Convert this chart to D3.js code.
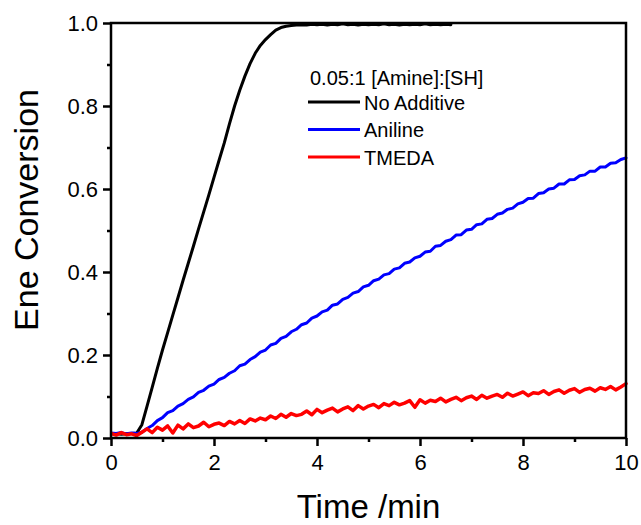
<!DOCTYPE html>
<html>
<head>
<meta charset="utf-8">
<script src="https://cdn.jsdelivr.net/npm/d3@7"></script>
<style>
  html, body { margin: 0; padding: 0; background: #fff; }
  svg { display: block; font-family: "Liberation Sans", Arial, sans-serif; }
</style>
</head>
<body>
<svg id="chart" width="641" height="525"></svg>
<script>
// ---- data ----
const times = [0.0,0.1,0.2,0.3,0.4,0.5,0.6,0.7,0.8,0.9,1.0,1.1,1.2,1.3,1.4,1.5,1.6,1.7,1.8,1.9,2.0,2.1,2.2,2.3,2.4,2.5,2.6,2.7,2.8,2.9,3.0,3.1,3.2,3.3,3.4,3.5,3.6,3.7,3.8,3.9,4.0,4.1,4.2,4.3,4.4,4.5,4.6,4.7,4.8,4.9,5.0,5.1,5.2,5.3,5.4,5.5,5.6,5.7,5.8,5.9,6.0,6.1,6.2,6.3,6.4,6.5,6.6,6.7,6.8,6.9,7.0,7.1,7.2,7.3,7.4,7.5,7.6,7.7,7.8,7.9,8.0,8.1,8.2,8.3,8.4,8.5,8.6,8.7,8.8,8.9,9.0,9.1,9.2,9.3,9.4,9.5,9.6,9.7,9.8,9.9,10.0];

// No Additive (data ends at 6.6 min)
const noAdditive = [0.010,0.011,0.009,0.010,0.011,0.012,0.032,0.077,0.122,0.168,0.212,0.254,0.296,0.338,0.380,0.421,0.462,0.504,0.545,0.586,0.628,0.670,0.711,0.757,0.800,0.838,0.872,0.902,0.927,0.946,0.960,0.972,0.983,0.989,0.992,0.994,0.995,0.996,0.995,0.997,0.996,0.997,0.995,0.997,0.996,0.998,0.996,0.997,0.995,0.997,0.996,0.997,0.996,0.998,0.996,0.997,0.995,0.997,0.996,0.997,0.996,0.998,0.996,0.997,0.996,0.997,0.996];

const aniline = [0.012,0.011,0.013,0.010,0.012,0.011,0.014,0.023,0.030,0.042,0.049,0.061,0.066,0.077,0.083,0.093,0.099,0.110,0.115,0.125,0.130,0.141,0.146,0.156,0.162,0.174,0.178,0.189,0.196,0.207,0.212,0.224,0.228,0.240,0.245,0.256,0.262,0.273,0.277,0.289,0.294,0.304,0.308,0.320,0.323,0.334,0.339,0.349,0.353,0.364,0.368,0.379,0.383,0.393,0.396,0.407,0.410,0.421,0.424,0.434,0.438,0.448,0.450,0.462,0.464,0.474,0.478,0.489,0.490,0.501,0.503,0.514,0.516,0.527,0.529,0.539,0.542,0.551,0.554,0.564,0.568,0.577,0.578,0.589,0.591,0.600,0.602,0.612,0.612,0.622,0.623,0.632,0.634,0.643,0.643,0.653,0.653,0.662,0.663,0.671,0.675];

const tmeda = [0.011,0.007,0.013,0.008,0.010,0.006,0.014,0.022,0.013,0.026,0.019,0.029,0.012,0.031,0.022,0.034,0.025,0.029,0.038,0.027,0.033,0.036,0.030,0.040,0.034,0.042,0.035,0.046,0.041,0.048,0.044,0.053,0.047,0.057,0.050,0.059,0.054,0.057,0.065,0.056,0.069,0.061,0.067,0.072,0.063,0.070,0.075,0.066,0.078,0.070,0.077,0.081,0.073,0.083,0.078,0.086,0.080,0.084,0.090,0.074,0.092,0.084,0.091,0.088,0.096,0.087,0.093,0.098,0.090,0.097,0.101,0.093,0.103,0.096,0.101,0.105,0.098,0.108,0.101,0.106,0.111,0.102,0.109,0.107,0.114,0.105,0.112,0.116,0.108,0.115,0.119,0.110,0.117,0.120,0.113,0.121,0.117,0.124,0.116,0.123,0.131];

const seriesNames = ["No Additive", "Aniline", "TMEDA"];
const seriesColors = ["#000000", "#0000ff", "#ff0000"];
const xTicks = [0, 2, 4, 6, 8, 10];
const xMinor = [1, 3, 5, 7, 9];
const yTicks = [0.0, 0.2, 0.4, 0.6, 0.8, 1.0];
const yMinor = [0.1, 0.3, 0.5, 0.7, 0.9];
const xTitle = "Time /min";
const yTitle = "Ene Conversion";
const legendTitle = "0.05:1 [Amine]:[SH]";

// ---- layout ----
const L = 111, R = 626, T = 23, B = 438;
const svg = d3.select("#chart");
const x = d3.scaleLinear().domain([0, 10]).range([L, R]);
const y = d3.scaleLinear().domain([0, 1]).range([B, T]);

const seriesValues = [noAdditive, aniline, tmeda];
const widths = [3, 3, 3.5];

svg.append("clipPath").attr("id", "clip").append("rect")
  .attr("x", L).attr("y", T - 2).attr("width", R - L + 2).attr("height", B - T + 2);

const line = d3.line().x(d => x(d[0])).y(d => y(d[1]));
const g = svg.append("g").attr("clip-path", "url(#clip)");
seriesValues.forEach((vals, i) => {
  const pts = vals.map((v, j) => [times[j], v]);
  g.append("path").datum(pts)
    .attr("d", line)
    .attr("fill", "none")
    .attr("stroke", seriesColors[i])
    .attr("stroke-width", widths[i])
    .attr("stroke-linejoin", "round")
    .attr("stroke-linecap", "round");
});

// axes
const fs = 22;
const xAxis = d3.axisBottom(x).tickValues(xTicks).tickSize(8).tickPadding(8).tickFormat(d3.format("d"));
const xAxisMinor = d3.axisBottom(x).tickValues(xMinor).tickSize(4).tickFormat("");
const yAxis = d3.axisLeft(y).tickValues(yTicks).tickSize(8).tickPadding(5).tickFormat(d3.format(".1f"));
const yAxisMinor = d3.axisLeft(y).tickValues(yMinor).tickSize(4).tickFormat("");

function style(sel) {
  sel.select(".domain").remove();
  sel.selectAll(".tick line").attr("stroke", "#000").attr("stroke-width", 2.5);
  sel.selectAll(".tick text").attr("fill", "#000").style("font-size", fs + "px")
    .style("font-family", "'Liberation Sans', Arial, sans-serif");
}
svg.append("g").attr("transform", `translate(0,${B})`).call(xAxis).call(style);
svg.append("g").attr("transform", `translate(0,${B})`).call(xAxisMinor).call(style);
svg.append("g").attr("transform", `translate(${L},0)`).call(yAxis).call(style);
svg.append("g").attr("transform", `translate(${L},0)`).call(yAxisMinor).call(style);

// frame
svg.append("rect").attr("x", L).attr("y", T).attr("width", R - L).attr("height", B - T)
  .attr("fill", "none").attr("stroke", "#000").attr("stroke-width", 2.5);

// titles
svg.append("text").attr("x", (L + R) / 2).attr("y", 518).attr("text-anchor", "middle")
  .style("font-size", "33px").attr("fill", "#000").text(xTitle);
svg.append("text").attr("transform", "translate(38,210) rotate(-90)").attr("text-anchor", "middle")
  .style("font-size", "34px").attr("fill", "#000").text(yTitle);

// legend
const lg = svg.append("g");
lg.append("text").attr("x", 310).attr("y", 85).style("font-size", "20px").attr("fill", "#000").text(legendTitle);
const rowY = [102, 129.5, 157];
seriesNames.forEach((n, i) => {
  lg.append("line").attr("x1", 308).attr("x2", 360).attr("y1", rowY[i]).attr("y2", rowY[i])
    .attr("stroke", seriesColors[i]).attr("stroke-width", 3);
  lg.append("text").attr("x", 364).attr("y", rowY[i] + 7.5).style("font-size", "20px")
    .attr("fill", "#000").text(n);
});
</script>
</body>
</html>
